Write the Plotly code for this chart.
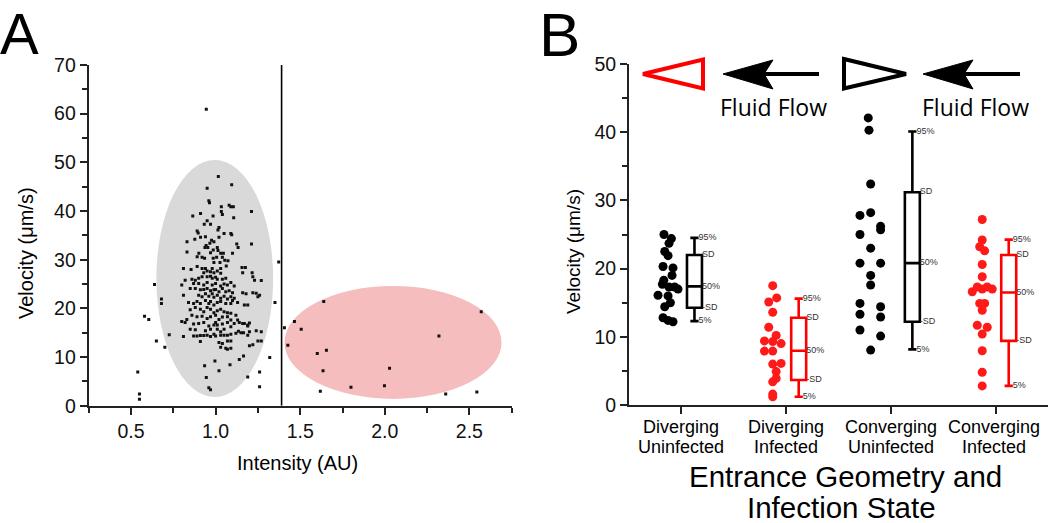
import plotly.graph_objects as go

# ---------------- Panel A data ----------------
intensity_a = [
    1.016, 1.095, 0.950, 0.960, 0.964, 1.034, 1.080, 1.090, 1.105, 1.212, 1.034, 1.040, 0.865, 0.911, 0.985,
    1.107, 0.950, 0.933, 0.970, 1.020, 1.014, 0.891, 0.897, 1.050, 1.090, 1.095, 0.940, 0.911, 1.020, 0.831,
    0.877, 0.976, 0.990, 0.966, 1.125, 1.133, 0.944, 0.937, 0.954, 1.010, 0.986, 1.014, 1.030, 1.046, 1.100,
    1.212, 0.831, 0.901, 0.970, 0.920, 0.935, 0.891, 0.986, 1.006, 1.040, 1.054, 1.073, 1.026, 0.990, 1.373,
    0.810, 0.855, 0.891, 0.920, 0.940, 0.980, 1.030, 1.063, 1.156, 1.176, 1.216, 0.970, 0.930, 0.990, 0.945,
    0.950, 1.010, 1.030, 1.160, 1.220,
    0.860, 0.880, 0.900, 0.920, 0.950, 0.970, 0.980, 1.000, 1.010, 1.040, 1.060, 0.820, 0.800,
    0.870, 0.900, 0.930, 0.950, 0.980, 1.000, 1.030, 1.050, 1.070, 1.090, 1.110, 0.850,
    0.880, 0.910, 0.930, 0.950, 0.970, 0.990, 1.000, 1.020, 1.040, 1.060, 1.080, 1.100, 0.810, 1.160, 1.180,
    0.900, 0.920, 0.940, 0.960, 0.980, 0.990, 1.010, 1.030, 1.050, 1.070, 1.090, 1.110, 0.840, 0.870,
    0.890, 0.910, 0.940, 0.960, 0.970, 0.990, 1.010, 1.030, 1.060, 1.090, 1.100, 1.130, 1.170,
    0.880, 0.910, 0.930, 0.950, 0.970, 0.990, 1.010, 1.030, 1.050, 1.070, 1.090, 1.120, 0.850, 0.860,
    0.890, 0.920, 0.950, 0.970, 1.000, 1.020, 1.040, 1.070, 1.090, 1.130, 0.830,
    0.800, 0.820, 0.870, 0.900, 0.930, 0.960, 0.990, 1.000, 1.010, 1.040, 1.070, 1.090, 1.110, 1.140, 1.170,
    1.190, 0.850, 0.880, 0.940, 0.970, 1.010, 1.030, 1.050,
    0.810, 0.870, 0.890, 0.910, 0.930, 0.950, 0.970, 0.990, 1.000, 1.030, 1.050, 1.070, 1.090, 1.120, 1.150,
    1.200, 1.240, 1.270,
    0.910, 1.020, 1.040, 1.070, 1.090, 1.250, 1.270, 1.030, 1.060, 1.070, 1.090, 1.200,
    1.260, 1.240, 1.250, 1.230, 1.270, 1.220, 1.190, 1.220, 1.190, 1.190, 1.160, 1.200, 1.165, 1.135,
    0.639, 0.680, 0.680, 0.580, 0.605, 0.650, 0.700, 0.726, 0.540, 0.550, 0.550, 1.351, 1.320, 1.260, 1.260,
    1.190, 1.140, 1.165, 1.085, 1.020, 0.996, 0.935, 0.945, 0.960, 0.970,
    1.407, 1.427, 1.466, 1.506, 1.639, 1.601, 1.655, 1.635, 1.619, 1.800, 1.998, 2.028, 2.320, 2.570, 2.360,
    2.544,
]
velocity_a = [
    47.1, 45.4, 44.7, 42.1, 41.7, 40.9, 41.2, 40.9, 40.9, 39.9, 39.9, 39.3, 39.0, 39.5, 39.0,
    38.6, 38.0, 37.3, 37.3, 36.6, 36.1, 35.9, 35.5, 35.4, 35.4, 35.1, 34.7, 34.6, 34.6, 33.7,
    34.2, 34.0, 33.7, 33.4, 33.2, 32.5, 32.9, 32.5, 32.5, 32.5, 32.0, 31.9, 31.3, 31.3, 31.3,
    33.2, 31.6, 31.3, 31.4, 30.5, 30.3, 30.6, 30.3, 30.5, 30.5, 29.9, 29.8, 29.4, 29.4, 29.5,
    28.2, 28.0, 28.6, 28.2, 28.2, 28.2, 28.2, 28.7, 28.4, 28.4, 27.3, 27.5, 27.3, 27.3, 60.9,
    27.7, 27.7, 27.2, 27.3, 26.5,
    26.0, 25.8, 26.2, 26.5, 26.5, 26.6, 26.2, 26.4, 26.0, 26.0, 26.2, 25.8, 24.8,
    25.1, 25.1, 24.8, 25.3, 24.8, 25.1, 24.6, 25.0, 24.8, 25.3, 24.6, 24.1,
    24.1, 23.8, 23.9, 24.1, 23.6, 23.8, 23.9, 23.4, 24.1, 23.4, 23.6, 23.2, 22.7, 23.2, 23.0,
    22.7, 22.4, 23.0, 22.5, 23.0, 22.3, 22.7, 22.1, 22.5, 21.9, 22.4, 22.1, 21.2, 21.0,
    21.4, 21.0, 21.6, 21.0, 21.4, 20.7, 21.2, 21.4, 21.0, 21.0, 21.6, 21.2, 20.7,
    20.2, 19.8, 19.3, 20.2, 19.8, 19.1, 19.5, 19.8, 19.3, 19.1, 19.0, 18.6, 19.7, 18.6,
    18.3, 18.4, 17.9, 18.3, 18.6, 17.7, 18.2, 18.3, 17.6, 17.6, 17.7,
    17.3, 17.1, 16.8, 16.9, 17.1, 16.4, 16.6, 17.1, 16.6, 16.8, 17.1, 16.2, 16.9, 17.1, 16.9,
    16.6, 15.7, 15.6, 15.4, 15.7, 15.7, 15.2, 15.7,
    14.2, 14.3, 14.3, 14.4, 14.4, 14.5, 14.2, 14.7, 14.3, 14.5, 14.5, 14.5, 14.7, 14.9, 15.0,
    15.2, 15.4, 15.2,
    13.2, 13.0, 12.8, 13.3, 13.3, 13.3, 13.3, 12.0, 11.8, 11.6, 11.8, 12.3,
    22.7, 23.1, 22.4, 25.8, 25.7, 23.2, 20.7, 12.5, 14.5, 16.4, 16.9, 17.0, 15.0, 15.3,
    24.9, 21.9, 21.0, 18.4, 17.7, 13.3, 12.0, 14.6, 6.9, 2.4, 1.3, 21.2, 9.9, 6.9, 3.9,
    5.9, 9.5, 10.2, 8.4, 7.2, 9.2, 8.2, 5.8, 3.7, 3.3,
    16.0, 12.4, 17.3, 15.7, 21.4, 10.7, 11.4, 7.2, 2.95, 3.8, 4.1, 7.7, 14.3, 19.3, 2.4,
    2.8,
]
threshold_intensity = 1.39
# cluster ellipses: (x0, x1, y0, y1)
uninfected_cluster = (0.65, 1.34, 1.8, 50.5)
infected_cluster = (1.407, 2.69, 1.4, 24.6)

# ---------------- Panel B data ----------------
categories = ["Diverging Uninfected", "Diverging Infected", "Converging Uninfected", "Converging Infected"]
group_infected = [False, True, False, True]

dots_offset = [
    [-0.166, -0.095, -0.118, -0.159, -0.127, -0.175, -0.080, -0.089, -0.168, -0.181, -0.118, -0.064, -0.032,
     -0.223, -0.127, -0.105, -0.159, -0.175, -0.127, -0.080],
    [-0.128, -0.090, -0.166, -0.128, -0.166, -0.095, -0.207, -0.128, -0.048, -0.207, -0.128, -0.128, -0.048,
     -0.095, -0.095, -0.128, -0.128, -0.128],
    [-0.216, -0.209, -0.193, -0.295, -0.193, -0.098, -0.098, -0.295, -0.193, -0.295, -0.098, -0.193, -0.193,
     -0.295, -0.098, -0.295, -0.098, -0.295, -0.098, -0.193],
    [-0.128, -0.128, -0.152, -0.105, -0.128, -0.128, -0.175, -0.080, -0.223, -0.128, -0.032, -0.152, -0.105,
     -0.128, -0.175, -0.080, -0.128, -0.128, -0.128, -0.128],
]
dots_velocity = [
    [25.0, 24.4, 23.7, 22.5, 21.9, 20.3, 20.1, 19.0, 18.3, 17.7, 17.3, 17.3, 17.0, 16.1, 16.0, 15.0, 14.4,
     12.8, 12.4, 12.2],
    [17.5, 15.7, 15.1, 13.6, 11.4, 10.2, 9.4, 9.3, 9.0, 7.9, 7.9, 6.0, 6.1, 4.9, 3.9, 3.4, 1.6, 1.2],
    [42.1, 40.3, 32.4, 27.8, 28.2, 26.2, 25.7, 25.0, 23.0, 20.8, 20.8, 19.0, 17.6, 14.9, 14.4, 13.3, 12.9,
     11.0, 10.1, 8.05],
    [27.2, 24.2, 23.2, 22.6, 20.6, 18.8, 17.3, 17.3, 16.6, 17.0, 17.0, 14.9, 14.9, 13.9, 11.7, 11.4, 10.4,
     7.95, 4.8, 2.8],
]
box_offset = [0.125, 0.12, 0.205, 0.125]
p95 = [24.5, 15.6, 40.1, 24.25]
sd_hi = [22.0, 12.8, 31.2, 22.0]
p50 = [17.4, 7.95, 20.8, 16.5]
sd_lo = [14.25, 3.66, 12.2, 9.4]
p5 = [12.3, 1.2, 8.15, 2.8]

# ---------------- styles ----------------
FONT = "Liberation Sans, Arial, sans-serif"
BLACK = "#000000"
RED = "#ff0000"
DOT_RED = "#ff1a1a"
BOX_W = 0.143
CAP_FRAC = 0.55
W, H = 1050, 523


def P(px, py):
    return px / W, 1 - py / H


fig = go.Figure()

# Panel A scatter
fig.add_trace(go.Scatter(
    x=intensity_a, y=velocity_a, mode="markers", xaxis="x", yaxis="y",
    marker=dict(symbol="square", size=3, color="#111111", line=dict(width=0)),
    showlegend=False, hoverinfo="skip"))

# Panel B
for i, cat in enumerate(categories):
    col = RED if group_infected[i] else BLACK
    dcol = DOT_RED if group_infected[i] else BLACK
    pos = i + 1
    fig.add_trace(go.Scatter(
        x=[pos + o for o in dots_offset[i]], y=dots_velocity[i], mode="markers",
        xaxis="x2", yaxis="y2", marker=dict(size=9, color=dcol, line=dict(width=0)),
        showlegend=False, hoverinfo="skip"))
    bx = pos + box_offset[i]
    fig.add_trace(go.Box(
        x=[bx], q1=[sd_lo[i]], median=[p50[i]], q3=[sd_hi[i]],
        lowerfence=[p5[i]], upperfence=[p95[i]],
        width=BOX_W, whiskerwidth=CAP_FRAC, boxpoints=False,
        line=dict(color=col, width=2.6), fillcolor="rgba(255,255,255,0)",
        xaxis="x2", yaxis="y2", showlegend=False, hoverinfo="skip"))
    xr_box = bx + BOX_W / 2
    xr_cap = bx + BOX_W * CAP_FRAC / 2
    fig.add_trace(go.Scatter(
        x=[xr_cap, xr_box, xr_box, xr_box, xr_cap],
        y=[p95[i], sd_hi[i], p50[i], sd_lo[i], p5[i]],
        text=["95%", "SD", "50%", "-SD", "5%"], mode="text", textposition="middle right",
        textfont=dict(size=9, color="#333333", family=FONT),
        xaxis="x2", yaxis="y2", showlegend=False, hoverinfo="skip", cliponaxis=False))

axis_common = dict(
    showline=True, linecolor="#222222", linewidth=2, ticks="outside", ticklen=7, tickwidth=2,
    tickcolor="#222222", showgrid=False, zeroline=False, mirror=False, automargin=False,
    tickfont=dict(family=FONT, size=19.5, color="#111111"),
)

shapes = []
x0, x1, y0, y1 = uninfected_cluster
shapes.append(dict(type="circle", xref="x", yref="y", x0=x0, x1=x1, y0=y0, y1=y1,
                   fillcolor="#d9d9d9", line=dict(width=0), layer="below"))
x0, x1, y0, y1 = infected_cluster
shapes.append(dict(type="circle", xref="x", yref="y", x0=x0, x1=x1, y0=y0, y1=y1,
                   fillcolor="#f6bdbe", line=dict(width=0), layer="below"))
shapes.append(dict(type="line", xref="x", yref="y", x0=threshold_intensity, x1=threshold_intensity,
                   y0=0, y1=70, line=dict(color="#000000", width=1.6)))


def path(points, close=True):
    s = ""
    for k, (px, py) in enumerate(points):
        X, Y = P(px, py)
        s += ("M" if k == 0 else " L") + f"{X:.5f},{Y:.5f}"
    return s + (" Z" if close else "")


shapes.append(dict(type="path", xref="paper", yref="paper",
                   path=path([(643, 74), (703, 59.5), (703, 88.5)]),
                   line=dict(color=RED, width=4), fillcolor="rgba(0,0,0,0)"))
shapes.append(dict(type="path", xref="paper", yref="paper",
                   path=path([(723, 74), (773, 60), (764, 74), (773, 89)]),
                   line=dict(color=BLACK, width=1), fillcolor=BLACK))
shapes.append(dict(type="line", xref="paper", yref="paper",
                   x0=P(764, 74)[0], y0=P(764, 74)[1], x1=P(819, 74)[0], y1=P(819, 74)[1],
                   line=dict(color=BLACK, width=4)))
shapes.append(dict(type="path", xref="paper", yref="paper",
                   path=path([(844, 59), (906, 74), (844, 88.5)]),
                   line=dict(color=BLACK, width=4), fillcolor="#ffffff"))
shapes.append(dict(type="path", xref="paper", yref="paper",
                   path=path([(923, 74), (973, 60), (964, 74), (973, 89)]),
                   line=dict(color=BLACK, width=1), fillcolor=BLACK))
shapes.append(dict(type="line", xref="paper", yref="paper",
                   x0=P(964, 74)[0], y0=P(964, 74)[1], x1=P(1020, 74)[0], y1=P(1020, 74)[1],
                   line=dict(color=BLACK, width=4)))

annotations = []


def ann(text, px, py, size, family=FONT, angle=0, xanchor="center", color="#000000"):
    X, Y = P(px, py)
    annotations.append(dict(text=text, x=X, y=Y, xref="paper", yref="paper", showarrow=False,
                            xanchor=xanchor, yanchor="middle", textangle=angle,
                            font=dict(size=size, family=family, color=color)))


ann("A", -2, 33, 58, xanchor="left")
ann("B", 537, 35, 62, family="Liberation Sans Narrow, Liberation Sans, Arial", xanchor="left")
ann("Velocity (μm/s)", 26, 253, 20, angle=-90)
ann("Intensity (AU)", 297, 463, 20)
ann("Velocity (μm/s)", 574, 252, 19, angle=-90)
ann("Fluid Flow", 773, 107, 23, family="Open Sans, sans-serif")
ann("Fluid Flow", 975, 107, 23, family="Open Sans, sans-serif")
ann("Entrance Geometry and", 845, 476, 29.5)
ann("Infection State", 841, 507, 29.5)
for i, cat in enumerate(categories):
    l1, l2 = cat.split(" ")
    X = (i + 1 - 0.5) / 4.0
    xp = 629 + X * (1048 - 629)
    if i == 3:
        xp -= 2
    ann(l1, xp, 427, 18)
    ann(l2, xp, 447, 18)

fig.update_layout(
    width=W, height=H, autosize=False,
    margin=dict(l=0, r=0, t=0, b=0, autoexpand=False),
    paper_bgcolor="white", plot_bgcolor="white",
    boxmode="overlay", showlegend=False,
    shapes=shapes, annotations=annotations,
    xaxis=dict(domain=[88.7 / W, 511.7 / W], range=[0.25, 2.75], anchor="y",
               tickvals=[0.5, 1.0, 1.5, 2.0, 2.5], ticktext=["0.5", "1.0", "1.5", "2.0", "2.5"],
               minor=dict(ticks="outside", tickvals=[0.25, 0.75, 1.25, 1.75, 2.25, 2.75], ticklen=5,
                          tickwidth=2, tickcolor="#222222"),
               **axis_common),
    yaxis=dict(domain=[1 - 405.7 / H, 1 - 65 / H], range=[0, 70], anchor="x",
               tickvals=[0, 10, 20, 30, 40, 50, 60, 70],
               minor=dict(ticks="outside", tickvals=[5, 15, 25, 35, 45, 55, 65], ticklen=5,
                          tickwidth=2, tickcolor="#222222"),
               **axis_common),
    xaxis2=dict(domain=[629 / W, 1048 / W], range=[0.5, 4.5], anchor="y2",
                tickvals=[1, 2, 3, 4], showticklabels=False, **axis_common),
    yaxis2=dict(domain=[1 - 405 / H, 1 - 64 / H], range=[0, 50], anchor="x2",
                tickvals=[0, 10, 20, 30, 40, 50],
                minor=dict(ticks="outside", tickvals=[5, 15, 25, 35, 45], ticklen=5,
                           tickwidth=2, tickcolor="#222222"),
                **axis_common),
)

fig.write_html("out.html", config={"displayModeBar": False},
               post_script="document.body.style.margin='0px';document.body.style.overflow='hidden';")
